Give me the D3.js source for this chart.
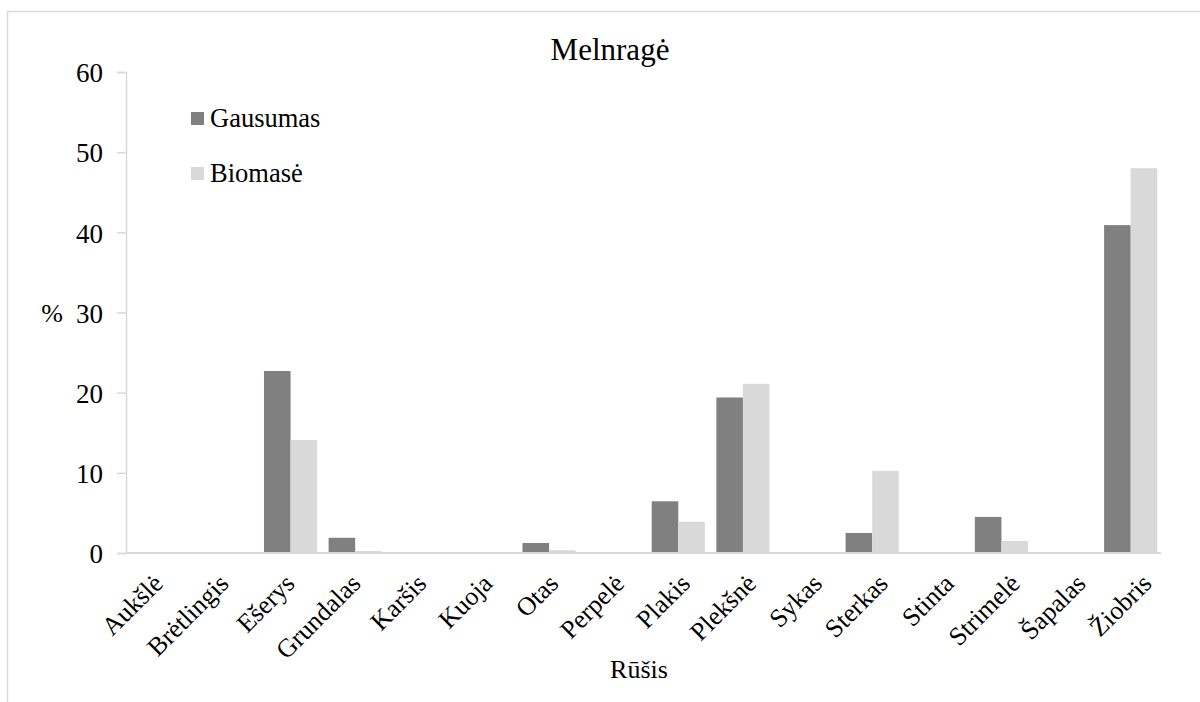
<!DOCTYPE html>
<html>
<head>
<meta charset="utf-8">
<script src="https://cdn.jsdelivr.net/npm/d3@7"></script>
<style>
  html, body { margin: 0; padding: 0; background: #fff; }
  svg { display: block; }
</style>
</head>
<body>
<svg id="chart" width="1200" height="702"></svg>
<script>
const categories = ["Aukšlė", "Brėtlingis", "Ešerys", "Grundalas", "Karšis", "Kuoja", "Otas", "Perpelė", "Plakis", "Plekšnė", "Sykas", "Sterkas", "Stinta", "Strimelė", "Šapalas", "Žiobris"];
const gausumas = [0, 0, 22.7, 1.9, 0, 0, 1.25, 0, 6.45, 19.4, 0, 2.5, 0, 4.5, 0, 40.9];
const biomase = [0, 0, 14.1, 0.25, 0, 0, 0.35, 0, 3.9, 21.1, 0, 10.25, 0, 1.5, 0, 48.0];
const seriesNames = ["Gausumas", "Biomasė"];
const yTicks = [0, 10, 20, 30, 40, 50, 60];
const title = "Melnragė";
const yTitle = "%";
const xTitle = "Rūšis";

const FONT = "Liberation Serif";
const colors = ["#808080", "#d9d9d9"];
const svg = d3.select("#chart");

// outer chart border
svg.append("rect").attr("x", 7.5).attr("y", 11.5).attr("width", 1300).attr("height", 800)
  .attr("fill", "#fff").attr("stroke", "#d9d9d9").attr("stroke-width", 1.5);

const x = d3.scaleBand().domain(categories).range([129, 1163]).paddingInner(0).paddingOuter(0);
const x1 = d3.scaleBand().domain(seriesNames).range([0, x.bandwidth()]).paddingInner(0).paddingOuter(0.215);
const y = d3.scaleLinear().domain([0, 60]).range([553, 72]);

// bars
const data = categories.map((c, i) => ({ cat: c, vals: [gausumas[i], biomase[i]] }));
const g = svg.append("g");
data.forEach(d => {
  d.vals.forEach((v, j) => {
    if (v <= 0) return;
    g.append("rect")
      .attr("x", x(d.cat) + x1(seriesNames[j]))
      .attr("width", x1.bandwidth())
      .attr("y", y(v))
      .attr("height", y(0) - y(v))
      .attr("fill", colors[j]);
  });
});

// y axis
const yAxis = d3.axisLeft(y).tickValues(yTicks).tickSize(9).tickPadding(14).tickFormat(d3.format("d"));
const ya = svg.append("g").attr("transform", "translate(126,0)").call(yAxis);
ya.attr("font-family", FONT).attr("font-size", 27);
ya.select(".domain").attr("stroke", "#d9d9d9").attr("stroke-width", 1.5);
ya.selectAll(".tick line").attr("stroke", "#d9d9d9").attr("stroke-width", 1.5);
ya.selectAll(".tick text").style("font-size", "27px").style("font-family", FONT).attr("fill", "#000").attr("dy", "0.36em");

// x axis baseline and labels
const xAxis = d3.axisBottom(x).tickSize(0).tickPadding(0);
const xa = svg.append("g").attr("transform", `translate(0,${y(0)})`).call(xAxis);
xa.attr("font-family", FONT).attr("font-size", 26);
xa.select(".domain").attr("stroke", "#d9d9d9").attr("stroke-width", 2).attr("d", `M126,0H1161`);
xa.selectAll(".tick text")
  .style("font-size", "26px").style("font-family", FONT).attr("fill", "#000")
  .attr("text-anchor", "end")
  .attr("transform", (d, i) => `translate(${3 + i * 1.3},${32}) rotate(-45)`)
  .attr("y", 0).attr("dy", 0);

// titles
svg.append("text").attr("x", 610).attr("y", 60).attr("text-anchor", "middle")
  .style("font-family", FONT).style("font-size", "31px").text(title);
svg.append("text").attr("x", 52).attr("y", 322).attr("text-anchor", "middle")
  .style("font-family", FONT).style("font-size", "26px").text(yTitle);
svg.append("text").attr("x", 639).attr("y", 678).attr("text-anchor", "middle")
  .style("font-family", FONT).style("font-size", "26px").text(xTitle);

// legend
const leg = svg.append("g");
seriesNames.forEach((s, i) => {
  const yy = 112 + i * 55;
  leg.append("rect").attr("x", 191).attr("y", yy).attr("width", 13).attr("height", 13).attr("fill", colors[i]);
  leg.append("text").attr("x", 210).attr("y", yy + 15)
    .style("font-family", FONT).style("font-size", "26.5px").text(s);
});
</script>
</body>
</html>
